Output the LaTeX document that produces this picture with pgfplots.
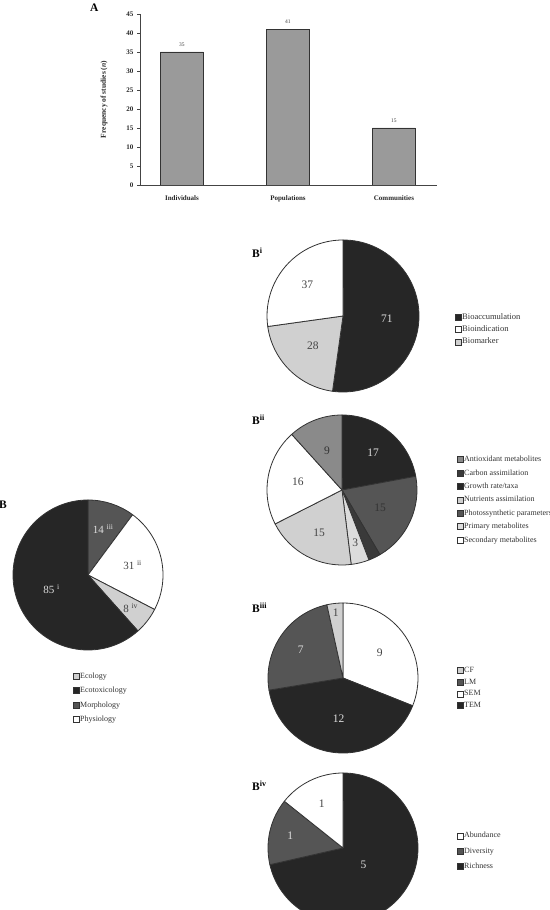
\documentclass[border=0pt]{standalone}
\usepackage{fontspec}
\setmainfont{Liberation Serif}
\usepackage{pgfplots}
\pgfplotsset{compat=1.18}

\definecolor{pblack}{HTML}{262626}
\definecolor{pcarbon}{HTML}{3A3A3A}
\definecolor{pdark}{HTML}{555555}
\definecolor{pmid}{HTML}{8A8A8A}
\definecolor{plight}{HTML}{D0D0D0}
\definecolor{plighter}{HTML}{DCDCDC}
\definecolor{bargray}{HTML}{9A9A9A}
\definecolor{bardark}{HTML}{333333}
\definecolor{axisgray}{HTML}{444444}
\definecolor{legdraw}{HTML}{333333}
\definecolor{legtext}{HTML}{333333}
\definecolor{onDark}{HTML}{DDDDDD}
\definecolor{onLight}{HTML}{444444}

\tikzset{
  pieline/.style={draw=bardark, line width=0.8pt, line join=round},
  pielab/.style={font=\fontsize{11.5}{12}\selectfont, inner sep=0pt},
  pielabB/.style={font=\fontsize{11}{12}\selectfont, inner sep=0pt},
  panel/.style={font=\fontsize{11.5}{12}\selectfont\bfseries, anchor=west, inner sep=0pt},
}

\pgfplotsset{
  pieaxis/.style={hide axis, scale only axis, anchor=origin,
    xmin=-1, xmax=1, ymin=-1, ymax=1, clip=false,
    legend cell align=left,
    legend image code/.code={\draw[##1, draw=legdraw, line width=0.6pt] (0pt,-3pt) rectangle (6pt,3pt);},
    legend style={draw=none, fill=none, inner sep=0pt, outer sep=0pt, anchor=west,
      font=\fontsize{8}{9}\selectfont, text=legtext,
      nodes={inner sep=0.6pt, text height=5.6pt, text depth=1.6pt}},
  },
}

% slices run clockwise from 12 o'clock;
% #1 total, #2 label style, #3 value/fill/text colour/label/label radius
\newcommand{\pieslices}[3]{%
  \gdef\pieS{90}%
  \foreach \v/\fc/\tc/\lab/\rf in {#3} {%
    \pgfmathsetmacro\pieE{\pieS-\v/#1*360}%
    \pgfmathsetmacro\pieM{(\pieS+\pieE)/2}%
    \edef\doit{%
      \noexpand\draw[pieline, fill=\fc] (axis cs:0,0) -- (axis cs:{cos(\pieS)},{sin(\pieS)})
        arc[start angle=\pieS, end angle=\pieE, radius=\pieR] -- cycle;%
      \noexpand\node[#2, text=\tc] at (axis cs:{\rf*cos(\pieM)},{\rf*sin(\pieM)}) {\unexpanded\expandafter{\lab}};%
    }%
    \doit
    \xdef\pieS{\pieE}%
  }%
}

\begin{document}
\begin{tikzpicture}

% ---------- A: frequency of studies by level ----------
\begin{axis}[
  at={(140pt,725pt)}, anchor=south west,
  scale only axis, width=297pt, height=171pt,
  xmin=-0.396, xmax=2.406, ymin=0, ymax=45,
  axis x line=bottom, axis y line=left,
  axis line style={-, draw=axisgray, line width=0.8pt},
  xtick={0,1,2}, xticklabels={Individuals,Populations,Communities},
  x tick style={draw=none},
  ytick={0,5,...,45},
  y tick style={draw=axisgray, line width=0.6pt},
  tick align=outside, major tick length=3pt,
  /pgf/number format/assume math mode=true,
  ticklabel style={font=\fontsize{7}{8}\selectfont\bfseries, text=black!85},
  xticklabel style={yshift=-4pt},
  ylabel={Frequency of studies (\textit{n})},
  ylabel style={font=\fontsize{7.5}{8}\selectfont\bfseries, text=black!85,
    at={(axis description cs:-0.121,0.5)}, anchor=center},
  ybar, bar width=0.4057,
  nodes near coords,
  nodes near coords style={font=\fontsize{5.5}{6}\selectfont, text=black!75, yshift=2pt},
]
\addplot[fill=bargray, draw=bardark, line width=0.9pt] coordinates {(0,35) (1,41) (2,15)};
\end{axis}
\node[panel] at (90pt,902pt) {A};

% ---------- B: research areas ----------
\def\pieR{75pt}
\begin{axis}[pieaxis, at={(88pt,335pt)}, width=150pt, height=150pt,
  legend style={at={(axis cs:-0.2,-1.64)}, row sep=6pt}]
\pieslices{138}{pielabB}{
  14/pdark/onDark/14 \textsuperscript{iii}/0.65,
  31/white/onLight/31 \textsuperscript{ii}/0.61,
  8/plight/onLight/8 \textsuperscript{iv}/0.72,
  85/pblack/onDark/85 \textsuperscript{i}/0.52}
\addlegendimage{fill=plight}\addlegendentry{Ecology}
\addlegendimage{fill=pblack}\addlegendentry{Ecotoxicology}
\addlegendimage{fill=pdark}\addlegendentry{Morphology}
\addlegendimage{fill=white}\addlegendentry{Physiology}
\end{axis}
\node[panel] at (-1pt,405pt) {B};

% ---------- B i ----------
\def\pieR{76pt}
\begin{axis}[pieaxis, at={(343pt,594pt)}, width=152pt, height=152pt,
  legend style={at={(axis cs:1.474,-0.178)}, row sep=4pt, font=\fontsize{8.5}{9}\selectfont}]
\pieslices{136}{pielab}{
  71/pblack/onDark/71/0.58,
  28/plight/onLight/28/0.56,
  37/white/onLight/37/0.62}
\addlegendimage{fill=pblack}\addlegendentry{Bioaccumulation}
\addlegendimage{fill=white}\addlegendentry{Bioindication}
\addlegendimage{fill=plight}\addlegendentry{Biomarker}
\end{axis}
\node[panel] at (252pt,657pt) {B\textsuperscript{i}};

% ---------- B ii ----------
\def\pieR{75pt}
\begin{axis}[pieaxis, at={(342pt,420pt)}, width=150pt, height=150pt,
  legend style={at={(axis cs:1.533,-0.133)}, row sep=5pt}]
\pieslices{77}{pielab}{
  17/pblack/onDark/17/0.65,
  15/pdark/bardark/15/0.56,
  2/pcarbon/onDark//0.7,
  3/plighter/onLight/3/0.73,
  15/plight/onLight/15/0.65,
  16/white/onLight/16/0.6,
  9/pmid/bardark/9/0.56}
\addlegendimage{fill=pmid}\addlegendentry{Antioxidant metabolites}
\addlegendimage{fill=pcarbon}\addlegendentry{Carbon assimilation}
\addlegendimage{fill=pblack}\addlegendentry{Growth rate/taxa}
\addlegendimage{fill=plight}\addlegendentry{Nutrients assimilation}
\addlegendimage{fill=pdark}\addlegendentry{Photossynthetic parameters}
\addlegendimage{fill=plighter}\addlegendentry{Primary metabolites}
\addlegendimage{fill=white}\addlegendentry{Secondary metabolites}
\end{axis}
\node[panel] at (252pt,490pt) {B\textsuperscript{ii}};

% ---------- B iii ----------
\begin{axis}[pieaxis, at={(343pt,232pt)}, width=150pt, height=150pt,
  legend style={at={(axis cs:1.52,-0.133)}, row sep=3.4pt}]
\pieslices{29}{pielab}{
  9/white/onLight/9/0.59,
  12/pblack/onDark/12/0.55,
  7/pdark/onDark/7/0.68,
  1/plight/onLight/1/0.88}
\addlegendimage{fill=plight}\addlegendentry{CF}
\addlegendimage{fill=pdark}\addlegendentry{LM}
\addlegendimage{fill=white}\addlegendentry{SEM}
\addlegendimage{fill=pblack}\addlegendentry{TEM}
\end{axis}
\node[panel] at (252pt,302pt) {B\textsuperscript{iii}};

% ---------- B iv ----------
\begin{axis}[pieaxis, at={(343pt,62pt)}, width=150pt, height=150pt,
  legend style={at={(axis cs:1.52,-0.04)}, row sep=6.6pt}]
\pieslices{7}{pielab}{
  5/pblack/onDark/5/0.35,
  1/pdark/onDark/1/0.72,
  1/white/onLight/1/0.65}
\addlegendimage{fill=white}\addlegendentry{Abundance}
\addlegendimage{fill=pdark}\addlegendentry{Diversity}
\addlegendimage{fill=pblack}\addlegendentry{Richness}
\end{axis}
\node[panel] at (252pt,124pt) {B\textsuperscript{iv}};

\pgfresetboundingbox
\useasboundingbox (0pt,0pt) rectangle (549pt,910pt);
\end{tikzpicture}
\end{document}
